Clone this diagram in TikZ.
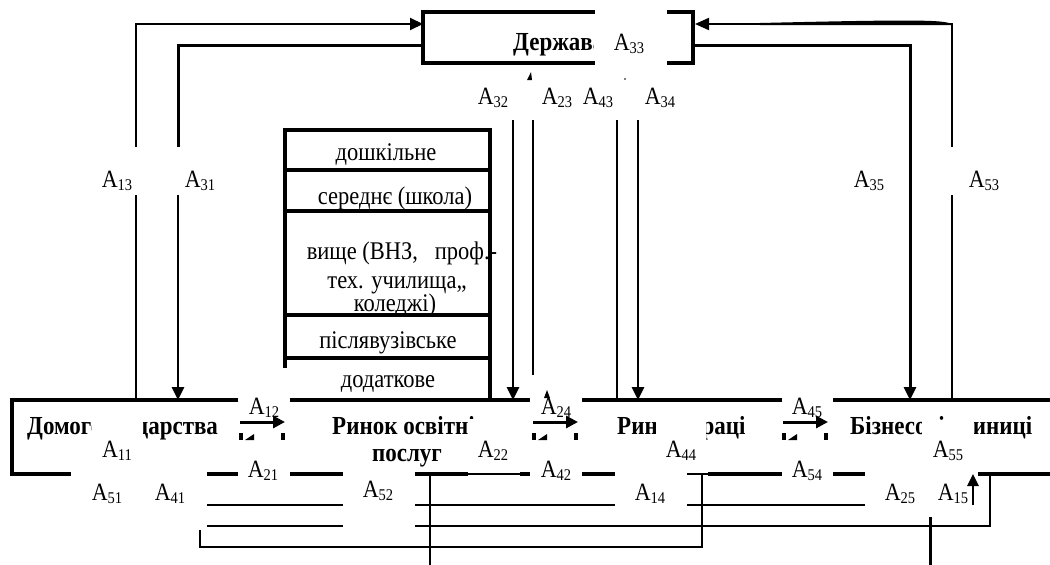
\documentclass[tikz,border=0pt]{standalone}
\usepackage{fontspec}
\usepackage{graphicx}
\setmainfont{Liberation Serif}
\usetikzlibrary{arrows.meta}
% text is set slightly taller than wide
\newcommand{\tl}[1]{\scalebox{1}[1.13]{#1}}
\newcommand{\Asub}[1]{\tl{A\raisebox{-3.5pt}{\fontsize{14.5}{15}\selectfont #1}}}

\begin{document}
\begin{tikzpicture}[x=1pt,y=-1pt,
  lab/.style={inner sep=0pt, anchor=base, font=\fontsize{22}{24}\selectfont},
  cell/.style={inner sep=0pt, anchor=base, font=\fontsize{22.5}{24}\selectfont},
  title/.style={inner sep=0pt, anchor=base west, font=\fontsize{23}{24}\selectfont\bfseries},
  heavy/.style={line width=4pt},
  frame/.style={line width=3.5pt},
  mid/.style={line width=2.6pt},
  thin/.style={line width=1.6pt},
  arr/.style={-{Triangle[length=13pt,width=12pt]}},
]
\useasboundingbox (0,0) rectangle (1050,565);

% ---- sector names
\node[title] (hh)   at (27,434)  {\tl{Домогосподарства}};
\node[title] (edu)  at (332,434) {\tl{Ринок освітніх}};
\node[title,anchor=base] (edub) at (407,461) {\tl{послуг}};
\node[title] (lab)  at (617,434) {\tl{Ринок праці}};
\node[title] (biz)  at (850,434) {\tl{Бізнесові одиниці}};
\node[title] (gov)  at (513,50)  {\tl{Держава}};

% ---- white label frames lying over the names
\fill[white] (92,406) rectangle (143,447);
\fill[white] (468,419) rectangle (506,447);
\fill[white] (656,406) rectangle (706,447);
\fill[white] (922,420) rectangle (974,447);
\fill[white] (594,20) rectangle (668,60);

% ---- state box (broken by the A33 frame)
\draw[frame] (595,12) -- (423,12) -- (423,63) -- (595,63);
\draw[frame] (667,12) -- (693,12) -- (693,63) -- (667,63);

% ---- education levels stack
\draw[heavy] (285,368) -- (285,130) -- (490,130) -- (490,398);
\foreach \yy in {170,211,315,358} \draw[heavy] (285,\yy) -- (490,\yy);
\node[cell] (c1) at (386,160) {\tl{дошкільне}};
\node[cell] (c2) at (395,204) {\tl{середнє (школа)}};
\node[cell] (c3) at (402,259) {\tl{вище (ВНЗ,~~~проф.-}};
\node[cell] (c4) at (397,288) {\tl{тех. училища,,}};
\node[cell] (c5) at (395,311) {\tl{коледжі)}};
\node[cell] (c6) at (388,348) {\tl{післявузівське}};
\node[cell] (c7) at (388,387) {\tl{додаткове}};

% ---- main band of markets
\draw[heavy] (238,400) -- (12,400) -- (12,474) -- (71,474);
\draw[heavy] (290,400) -- (530,400);
\draw[heavy] (582,400) -- (782,400);
\draw[heavy] (833,400) -- (1050,400);
\draw[heavy] (207,474) -- (238,474);
\draw[heavy] (290,474) -- (343,474);
\draw[heavy] (415,474) -- (468,474);
\draw[thin]  (468,474) -- (520,474);
\draw[heavy] (520,474) -- (530,474);
\draw[heavy] (582,474) -- (615,474);
\draw[thin]  (687,474) -- (708,474);
\draw[heavy] (708,474) -- (782,474);
\draw[heavy] (833,474) -- (865,474);
\draw[heavy] (978,474) -- (1050,474);

% ---- flows between neighbouring sectors
\foreach \xa/\xb in {240/285, 533/578, 783/828} {
  \draw[line width=3pt, -{Triangle[length=12pt,width=12pt]}] (\xa,422) -- (\xb,422);
  \fill (\xa-1,433) rectangle (\xa+3,440);
  \fill (\xa+5,440) -- (\xa+14,434) -- (\xa+14,440) -- cycle;
  \fill (\xb-4,433) rectangle (\xb,440);
}

% ---- household <-> state
\draw[line width=2pt, arr] (136,147) -- (136,24) -- (423,24);
\draw[line width=3pt] (423,45) -- (178,45) -- (178,147);
\draw[line width=2pt] (136,195) -- (136,398);
\draw[line width=2.6pt, arr] (178,195) -- (178,400);

% ---- business <-> state
\draw[line width=2pt, -{Triangle[length=14pt,width=12pt]}] (952,147) -- (952,24) -- (695,24);
\fill (952,25) .. controls (948,20) and (930,19) .. (760,23) -- (760,25) -- cycle;
\draw[line width=3pt, arr] (693,45) -- (910,45) -- (910,400);
\draw[line width=2pt] (952,195) -- (952,398);

% ---- state <-> education and labour markets
\draw[mid, arr] (513,120) -- (513,400);
\draw[mid] (533,120) -- (533,375);
\draw[mid] (617,120) -- (617,398);
\draw[mid, arr] (638,120) -- (638,400);
\fill (527,80) -- (531,72) -- (532,80) -- cycle;
\fill (625,79) circle (0.9);
\fill (544,398) -- (547,390) -- (550,398) -- cycle;

% ---- lower connections
\draw[thin] (207,505) -- (343,505);
\draw[thin] (415,505) -- (615,505);
\draw[thin] (687,505) -- (865,505);
\draw[thin] (207,526) -- (343,526);
\draw[thin] (415,526) -- (990,526) -- (990,474);
\draw[line width=2pt] (200,530) -- (200,547) -- (702,547) -- (702,474);
\draw[thin] (430,474) -- (430,565);
\draw[line width=3pt] (930,517) -- (930,565);
\draw[line width=2.6pt, -{Triangle[length=12pt,width=11pt]}] (973,505) -- (973,474);

% ---- flow labels
\node[lab] (a13) at (117,187) {\Asub{13}};
\node[lab] (a31) at (200,187) {\Asub{31}};
\node[lab] (a35) at (869,187) {\Asub{35}};
\node[lab] (a53) at (984,187) {\Asub{53}};
\node[lab] (a32) at (493,104) {\Asub{32}};
\node[lab] (a23) at (557,104) {\Asub{23}};
\node[lab] (a43) at (598,104) {\Asub{43}};
\node[lab] (a34) at (660,104) {\Asub{34}};
\node[lab] (a33) at (629,50)  {\Asub{33}};
\node[lab] (a12) at (264,414) {\Asub{12}};
\node[lab] (a24) at (556,414) {\Asub{24}};
\node[lab] (a45) at (807,414) {\Asub{45}};
\node[lab] (a11) at (117,457) {\Asub{11}};
\node[lab] (a22) at (493,457) {\Asub{22}};
\node[lab] (a44) at (681,457) {\Asub{44}};
\node[lab] (a55) at (948,457) {\Asub{55}};
\node[lab] (a21) at (263,477) {\Asub{21}};
\node[lab] (a42) at (556,477) {\Asub{42}};
\node[lab] (a54) at (807,477) {\Asub{54}};
\node[lab] (a51) at (107,500) {\Asub{51}};
\node[lab] (a41) at (170,500) {\Asub{41}};
\node[lab] (a52) at (378,497) {\Asub{52}};
\node[lab] (a14) at (650,500) {\Asub{14}};
\node[lab] (a25) at (900,500) {\Asub{25}};
\node[lab] (a15) at (953,500) {\Asub{15}};
\end{tikzpicture}
\end{document}
